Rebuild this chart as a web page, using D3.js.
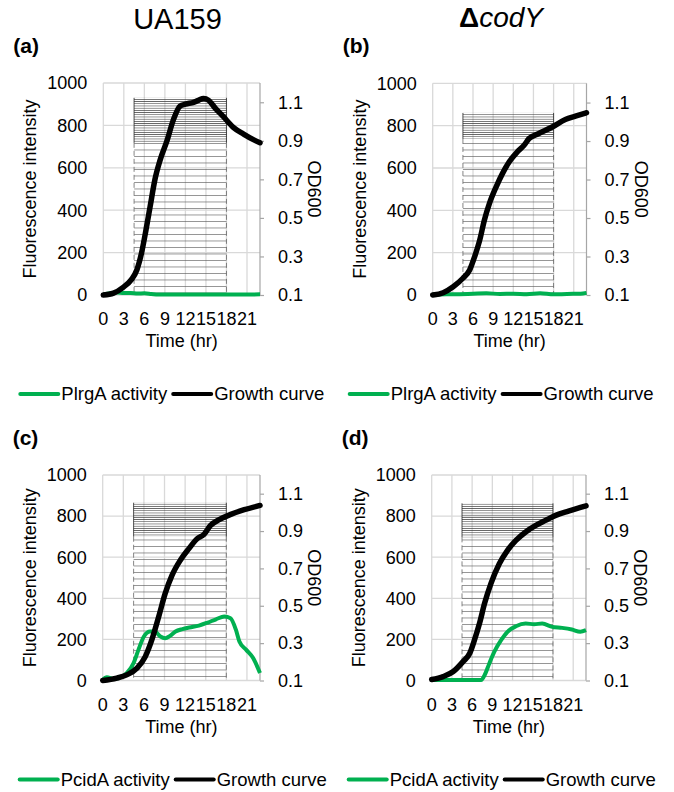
<!DOCTYPE html>
<html>
<head>
<meta charset="utf-8">
<script src="https://cdn.jsdelivr.net/npm/d3@7"></script>
<style>
  body { margin: 0; background: #fff; }
  text { font-family: "Liberation Sans", Arial, sans-serif; fill: #000; }
</style>
</head>
<body>
<div id="chartdiv"></div>
<script>
// values: time in hours, OD600 and fluorescence
var xTicks = [0, 3, 6, 9, 12, 15, 18, 21];
var yTicks = [0, 200, 400, 600, 800, 1000];
var odTicks = [0.1, 0.3, 0.5, 0.7, 0.9, 1.1];

var odTimeA = [0, 1.5, 2.9, 4.1, 4.9, 5.6, 6.25, 6.85, 7.55, 8.3, 9.3, 10.25, 11.2, 12, 13.2, 13.9, 14.65, 15.4, 16.35, 17.55, 19, 20.5, 22, 22.9];
var odA = [0.10, 0.11, 0.14, 0.18, 0.23, 0.32, 0.44, 0.56, 0.70, 0.80, 0.90, 1.01, 1.08, 1.09, 1.10, 1.11, 1.12, 1.11, 1.07, 1.025, 0.97, 0.935, 0.905, 0.89];
var flTimeA = [0, 1, 2, 3, 4, 5, 6, 7, 8, 10, 14, 18, 22.9];
var flA = [3, 8, 12, 9, 10, 7, 8, 5, 2, 2, 2, 2, 3];

var odTimeB = [0, 1.55, 3.05, 4.5, 5.5, 6.25, 7, 7.7, 8.45, 9.45, 10.4, 11.4, 12.6, 13.6, 14.35, 15.8, 17.8, 19.75, 21.25, 22.9];
var odB = [0.10, 0.112, 0.143, 0.187, 0.23, 0.30, 0.385, 0.49, 0.576, 0.662, 0.732, 0.792, 0.844, 0.878, 0.913, 0.939, 0.973, 1.012, 1.029, 1.047];
var flTimeB = [0, 2, 4, 6, 8, 10, 12, 14, 16, 18, 20, 22, 22.9];
var flB = [2, 3, 4, 6, 8, 5, 6, 4, 8, 3, 5, 6, 10];

var odTimeC = [0, 2.05, 3.5, 5, 6.2, 7.15, 8.15, 9.1, 10.1, 11.3, 12.55, 13.75, 14.75, 15.7, 16.95, 18.65, 20.6, 22.9];
var odC = [0.10, 0.113, 0.13, 0.166, 0.228, 0.317, 0.441, 0.566, 0.664, 0.744, 0.806, 0.859, 0.882, 0.93, 0.961, 0.989, 1.014, 1.037];
var flTimeC = [0, 0.6, 1.6, 2.5, 3.5, 4.5, 5.2, 6.0, 6.9, 7.6, 8.4, 9.1, 9.8, 10.6, 11.6, 12.6, 14.0, 15.3, 16.5, 17.7, 18.6, 19.4, 19.9, 20.9, 21.9, 22.9];
var flC = [3, 16, 7, 16, 36, 85, 149, 214, 238, 238, 214, 206, 217, 238, 250, 258, 267, 282, 298, 311, 303, 246, 190, 149, 109, 36];

var odTimeD = [0, 1.7, 3.2, 4.65, 5.65, 6.35, 7.1, 7.85, 8.8, 10.05, 11.25, 12.5, 13.95, 15.45, 16.9, 18.4, 20.3, 22.9];
var odD = [0.105, 0.121, 0.148, 0.201, 0.246, 0.317, 0.406, 0.513, 0.62, 0.726, 0.797, 0.85, 0.895, 0.93, 0.957, 0.984, 1.007, 1.035];
var flTimeD = [0, 2.2, 7.35, 7.85, 8.55, 9.3, 10.3, 11.25, 12.5, 13.95, 15.2, 16.4, 17.9, 19.35, 20.8, 22.05, 22.9];
var flD = [2, 2, 2, 26, 83, 140, 196, 237, 264, 277, 274, 277, 261, 256, 248, 237, 245];

// imaging window (hatched box): start/end hour and top in fluorescence units
var windowHours = [4.5, 18];
var windowTops = [930, 860, 865, 862];

var panels = [
  {tag: '(a)', reporter: 'PlrgA activity', odT: odTimeA, od: odA, flT: flTimeA, fl: flA, x0: 103.3, x1: 260, y0: 83, y1: 295, win: windowTops[0], band: 45},
  {tag: '(b)', reporter: 'PlrgA activity', odT: odTimeB, od: odB, flT: flTimeB, fl: flB, x0: 432.7, x1: 586.5, y0: 83.3, y1: 295, win: windowTops[1], band: 26},
  {tag: '(c)', reporter: 'PcidA activity', odT: odTimeC, od: odC, flT: flTimeC, fl: flC, x0: 102.7, x1: 260, y0: 475, y1: 680.5, win: windowTops[2], band: 34},
  {tag: '(d)', reporter: 'PcidA activity', odT: odTimeD, od: odD, flT: flTimeD, fl: flD, x0: 431.7, x1: 586, y0: 475, y1: 680.5, win: windowTops[3], band: 34}
];

var GREEN = '#00b050';
var GRID = '#d9d9d9';

var svg = d3.select('#chartdiv').append('svg')
  .attr('width', 674)
  .attr('height', 792);

var defs = svg.append('defs');
defs.append('pattern')
  .attr('id', 'dense')
  .attr('patternUnits', 'userSpaceOnUse')
  .attr('width', 8).attr('height', 2.2)
  .append('rect').attr('width', 8).attr('height', 0.6).attr('fill', '#333');
defs.append('pattern')
  .attr('id', 'sparse')
  .attr('patternUnits', 'userSpaceOnUse')
  .attr('width', 8).attr('height', 6.5)
  .append('rect').attr('width', 8).attr('height', 0.6).attr('fill', '#555');

// column titles
svg.append('text')
  .attr('x', 177.5).attr('y', 28.5)
  .attr('text-anchor', 'middle')
  .attr('font-size', '29px')
  .text('UA159');
var mut = svg.append('text')
  .attr('x', 501).attr('y', 27)
  .attr('text-anchor', 'middle')
  .attr('font-size', '28px');
mut.append('tspan').attr('font-weight', 'bold').text('Δ');
mut.append('tspan').attr('font-style', 'italic').text('codY');

panels.forEach(function(p) { draw(p); });

function draw(p) {
  var x = d3.scaleLinear().domain([0, 22.9]).range([p.x0, p.x1]);
  var y = d3.scaleLinear().domain([0, 1000]).range([p.y1, p.y0]);
  var yOD = d3.scaleLinear().domain([0.1, 1.2]).range([p.y1, p.y0]);
  var g = svg.append('g');

  // gridlines
  g.selectAll('.hgrid').data(yTicks).enter().append('line')
    .attr('x1', p.x0).attr('x2', p.x1)
    .attr('y1', d => y(d)).attr('y2', d => y(d))
    .attr('stroke', GRID).attr('stroke-width', 1.3);
  g.selectAll('.vgrid').data(xTicks).enter().append('line')
    .attr('x1', d => x(d)).attr('x2', d => x(d))
    .attr('y1', p.y0).attr('y2', p.y1)
    .attr('stroke', GRID).attr('stroke-width', 1.3);

  // hatched imaging window
  var wx0 = x(windowHours[0]), wx1 = x(windowHours[1]), wy = y(p.win);
  var band = p.band;
  g.append('rect')
    .attr('x', wx0).attr('y', wy).attr('width', wx1 - wx0).attr('height', band)
    .attr('fill', 'url(#dense)');
  g.append('rect')
    .attr('x', wx0).attr('y', wy + band).attr('width', wx1 - wx0).attr('height', p.y1 - wy - band)
    .attr('fill', 'url(#sparse)');
  [wx0, wx1].forEach(function(xx) {
    g.append('line')
      .attr('x1', xx).attr('x2', xx).attr('y1', wy).attr('y2', wy + band)
      .attr('stroke', '#222').attr('stroke-width', 0.8);
    g.append('line')
      .attr('x1', xx).attr('x2', xx).attr('y1', wy + band).attr('y2', p.y1)
      .attr('stroke', '#666').attr('stroke-width', 0.8)
      .attr('stroke-dasharray', '5,3');
  });

  // right axis
  g.append('g')
    .attr('transform', 'translate(' + p.x1 + ',0)')
    .call(d3.axisRight(yOD).tickValues(odTicks).tickSize(4).tickPadding(14).tickFormat(d3.format('.1f')))
    .call(a => a.select('.domain').attr('stroke', '#a6a6a6').attr('stroke-width', 1.2).attr('d', 'M0,' + p.y0 + 'V' + p.y1))
    .call(a => a.selectAll('.tick line').attr('stroke', '#a6a6a6').attr('stroke-width', 1.2))
    .call(a => a.selectAll('.tick text').attr('font-size', '18px').attr('font-family', '"Liberation Sans", Arial, sans-serif').attr('fill', '#000'));

  // left tick labels
  g.selectAll('.ylab').data(yTicks).enter().append('text')
    .attr('x', p.x0 - 16).attr('y', d => y(d))
    .attr('dy', '0.35em')
    .attr('text-anchor', 'end')
    .attr('font-size', '18px')
    .text(d => d);

  // x tick labels
  g.selectAll('.xlab').data(xTicks).enter().append('text')
    .attr('x', d => x(d)).attr('y', p.y1 + 30)
    .attr('text-anchor', 'middle')
    .attr('font-size', '18px')
    .text(d => d);

  // series
  var flLine = d3.line().curve(d3.curveMonotoneX)
    .x((d, i) => x(p.flT[i])).y(d => y(d));
  var odLine = d3.line().curve(d3.curveMonotoneX)
    .x((d, i) => x(p.odT[i])).y(d => yOD(d));
  g.append('path').datum(p.fl)
    .attr('d', flLine)
    .attr('fill', 'none').attr('stroke', GREEN).attr('stroke-width', 4)
    .attr('stroke-linejoin', 'round');
  g.append('path').datum(p.od)
    .attr('d', odLine)
    .attr('fill', 'none').attr('stroke', '#000').attr('stroke-width', 5.5)
    .attr('stroke-linejoin', 'round').attr('stroke-linecap', 'round');

  // axis titles
  var cy = (p.y0 + p.y1) / 2;
  g.append('text')
    .attr('transform', 'translate(' + (p.x0 - 67) + ',' + cy + ') rotate(-90)')
    .attr('text-anchor', 'middle')
    .attr('font-size', '18px')
    .text('Fluorescence intensity');
  g.append('text')
    .attr('transform', 'translate(' + (p.x1 + 48) + ',' + cy + ') rotate(90)')
    .attr('text-anchor', 'middle')
    .attr('font-size', '18px')
    .text('OD600');
  g.append('text')
    .attr('x', (p.x0 + p.x1) / 2).attr('y', p.y1 + 52)
    .attr('text-anchor', 'middle')
    .attr('font-size', '18px')
    .text('Time (hr)');

  // panel tag
  g.append('text')
    .attr('x', p.x0 - 90).attr('y', p.y0 - 30)
    .attr('font-size', '21px').attr('font-weight', 'bold')
    .text(p.tag);

  // legend
  var ly = p.y1 + 99;
  var lx = p.x0 - 83;
  var items = [{name: p.reporter, color: GREEN}, {name: 'Growth curve', color: '#000'}];
  var cur = lx;
  items.forEach(function(it) {
    g.append('line')
      .attr('x1', cur).attr('x2', cur + 38).attr('y1', ly).attr('y2', ly)
      .attr('stroke', it.color).attr('stroke-width', 4).attr('stroke-linecap', 'round');
    var t = g.append('text')
      .attr('x', cur + 41).attr('y', ly).attr('dy', '0.35em')
      .attr('font-size', '18.5px')
      .text(it.name);
    cur = cur + 41 + t.node().getComputedTextLength() + 6;
  });
}
</script>
</body>
</html>
